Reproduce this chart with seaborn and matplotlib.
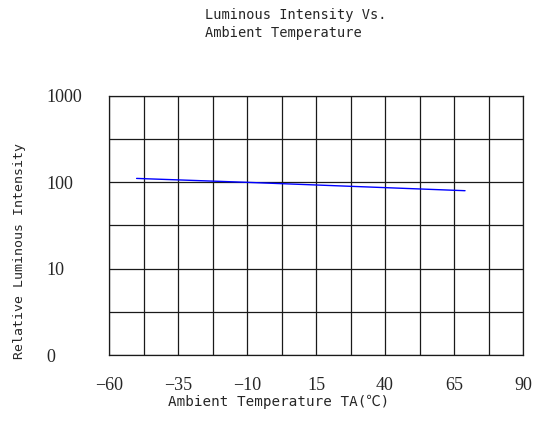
import numpy as np
import pandas as pd
import matplotlib
matplotlib.use('Agg')
import matplotlib.pyplot as plt
import seaborn as sns
from matplotlib.ticker import NullLocator

# data
temp = [-50, -10, 69]
intensity = [111, 100, 80]

x_grid = [-60, -47.5, -35, -22.5, -10, 2.5, 15, 27.5, 40, 52.5, 65, 77.5, 90]
x_labels = ['\u221260', '', '\u221235', '', '\u221210', '', '15', '', '40', '', '65', '', '90']
y_grid = [1, 3.1623, 10, 31.623, 100, 316.23, 1000]
y_labels = ['0', '', '10', '', '100', '', '1000']

df = pd.DataFrame({'temp': temp, 'intensity': intensity})

sns.set_style('white')
mono = ['DejaVu Sans Mono', 'Noto Sans CJK SC']
serif = 'Liberation Serif'

fig = plt.figure(figsize=(5.39, 4.37), dpi=100)
ax = fig.add_axes([109 / 539, 82 / 437, 414 / 539, 259 / 437])

sns.lineplot(data=df, x='temp', y='intensity', color='blue', linewidth=1, ax=ax)

ax.set_yscale('log')
ax.set_xlim(-60, 90)
ax.set_ylim(1, 1000)
ax.yaxis.set_minor_locator(NullLocator())
ax.xaxis.set_minor_locator(NullLocator())
ax.set_xticks(x_grid)
ax.set_xticklabels(x_labels, fontfamily=serif, fontsize=13)
ax.set_yticks(y_grid)
ax.set_yticklabels(y_labels, fontfamily=serif, fontsize=13)
for lab in ax.get_yticklabels():
    lab.set_ha('left')
ax.tick_params(axis='x', length=0, pad=16)
ax.tick_params(axis='y', length=0, pad=45)
ax.grid(True, color='#1a1a1a', linewidth=0.9)
for s in ax.spines.values():
    s.set_color('#1a1a1a')
    s.set_linewidth(0.9)
ax.set_xlabel('')
ax.set_ylabel('')

fig.text(205 / 539, 1 - 8 / 437, 'Luminous Intensity Vs.\nAmbient Temperature',
         ha='left', va='top', fontsize=9.8, family=mono, linespacing=1.35)
fig.text(279 / 539, 1 - 402 / 437, 'Ambient Temperature TA(\u2103)',
         ha='center', va='center', fontsize=10.3, family=mono)
fig.text(20 / 539, 1 - 251 / 437, 'Relative Luminous Intensity',
         ha='center', va='center', rotation=90, fontsize=9.5, family=mono)

fig.savefig('out.png', dpi=100)
